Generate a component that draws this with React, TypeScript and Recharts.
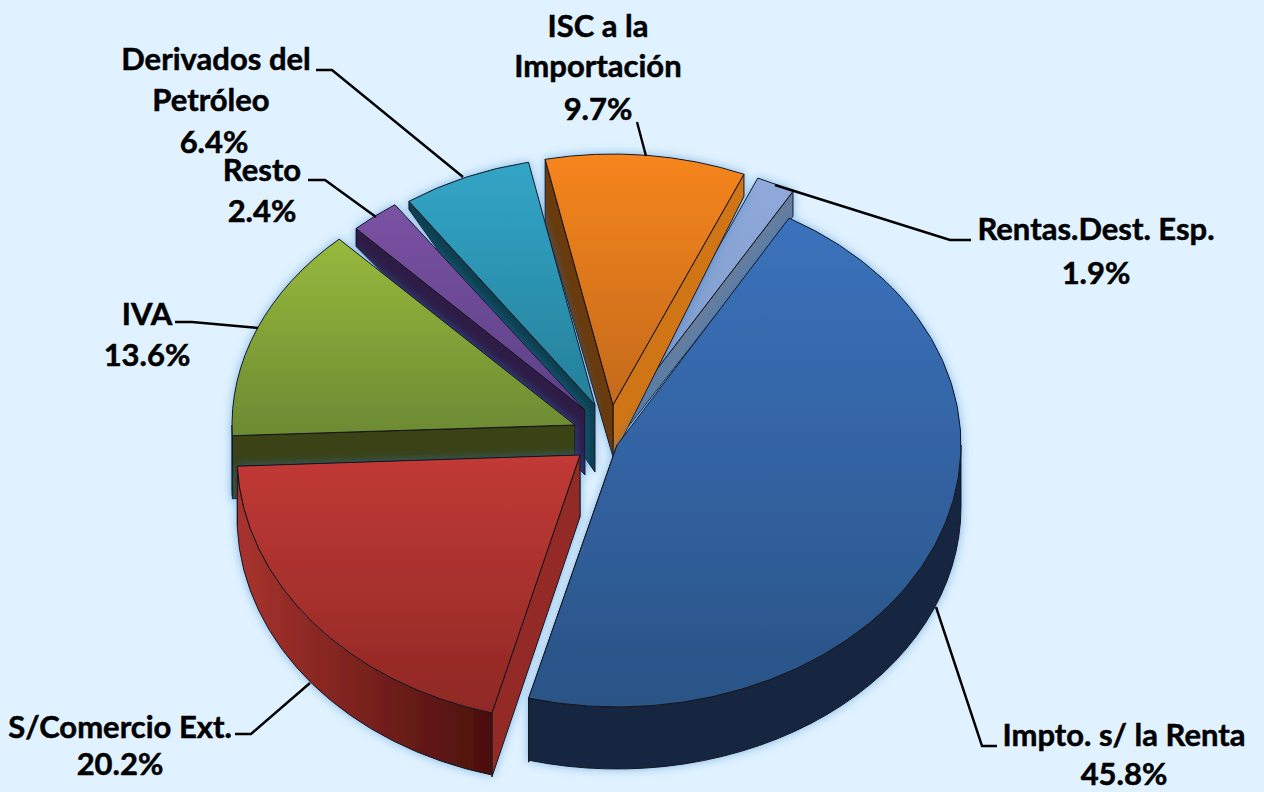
import { PieChart, Pie } from 'recharts';

// listed counter-clockwise from the top right, so the front slices paint last
const categories = ['Rentas.Dest. Esp.', 'ISC a la Importación', 'Derivados del Petróleo', 'Resto', 'IVA', 'S/Comercio Ext.', 'Impto. s/ la Renta'];
const shares = [1.9, 9.7, 6.4, 2.4, 13.6, 20.2, 45.8];
const shareLabels = ['1.9%', '9.7%', '6.4%', '2.4%', '13.6%', '20.2%', '45.8%'];

const data = categories.map((name, i) => ({ name, value: shares[i] }));

const CX = 600;
const CY = 430;
const RADIUS = 340;

// explode offset from the pie centre and radii of each slice
const apexes = [[628, 407], [613, 405], [595, 405], [585, 410], [575, 425], [580, 455], [617, 445]];
const radii = [[330, 249], [333, 251], [326, 248], [333, 250], [343, 256], [343, 267], [344, 262]];
// wall heights: at the apex, start edge, end edge, rim
const depths = [
  [20, 25, 0, 0],
  [52, 22, 64, 0],
  [67, 0, 8, 0],
  [65, 0, 18, 0],
  [60, 0, 63, 60],
  [62, 60, 64, 62],
  [62, 64, 0, 62],
];

const topColors = [['#8EA9DA', '#7F9CCB'], ['#F6851F', '#C46A1D'], ['#32A5C7', '#26809A'], ['#7A52A3', '#5D4088'], ['#97B93C', '#6C8A33'], ['#C23A35', '#8F2825'], ['#3B72BD', '#2A5386']];
// end edge, start edge
const edgeColors = [['#7089B0', '#657E9F'], ['#6B3A08', '#CF7418'], ['#10414F', '#10414F'], ['#2E1D46', '#2E1D46'], ['#3A4217', '#3A4217'], ['#942C28', '#000'], ['#12263F', '#12263F']];
const rimColors = [['#7089B0', '#7089B0'], ['#000', '#000'], ['#000', '#000'], ['#000', '#000'], ['#3A4217', '#3A4217'], ['#A8332E', '#4A0F0D'], ['#12263F', '#12263F']];

// label text lines: [text, centre x, baseline y]
const labelLines: [string, number, number][][] = [
  [['Rentas.Dest. Esp.', 1096, 240], [shareLabels[0], 1096, 284]],
  [['ISC a la', 598, 37], ['Importación', 598, 77], [shareLabels[1], 598, 120]],
  [['Derivados del', 216, 70], ['Petróleo', 211, 111], [shareLabels[2], 214, 153]],
  [['Resto', 262, 181], [shareLabels[3], 262, 222]],
  [['IVA', 147, 325], [shareLabels[4], 147, 366]],
  [['S/Comercio Ext.', 120, 738], [shareLabels[5], 120, 775]],
  [['Impto. s/ la Renta', 1124, 746], [shareLabels[6], 1124, 785]],
];
const leaders = [
  '971,240 950,240 775,185',
  '637,122 646,156',
  '316,70 332,70 463,177',
  '308,180 325,180 376,217',
  '175,322 192,322 258,328',
  '235,734 251,734 310,683',
  '997,746 982,746 936,607',
];

function Slice(props: any) {
  const { cx, cy, outerRadius, startAngle, endAngle, index } = props;
  const [ax, ay] = [cx + apexes[index][0] - CX, cy + apexes[index][1] - CY];
  const rx = (radii[index][0] / RADIUS) * outerRadius;
  const ry = (radii[index][1] / RADIUS) * outerRadius;
  const [dApex, dStart, dEnd, dRim] = depths[index];
  const pt = (deg: number, drop = 0) => {
    const a = (deg * Math.PI) / 180;
    return `${ax + rx * Math.cos(a)},${ay - ry * Math.sin(a) + drop}`;
  };
  const large = endAngle - startAngle > 180 ? 1 : 0;
  const wall = (deg: number, d: number) => `M${ax},${ay} L${pt(deg)} L${pt(deg, d)} L${ax},${ay + dApex} Z`;
  // only the part of the rim that faces the viewer gets a wall
  const lo = Math.max(startAngle, 180);
  const hi = Math.min(endAngle, 360);
  const line = { stroke: '#14141a', strokeWidth: 1, strokeLinejoin: 'round' as const };
  return (
    <g filter="url(#glow)">
      <defs>
        <filter id="glow" x="-15%" y="-15%" width="130%" height="130%">
          <feDropShadow dx="0" dy="0" stdDeviation="5" floodColor="#2a78c8" floodOpacity="0.5" />
        </filter>
        <linearGradient id={`top${index}`} x1="0" y1="0" x2="0" y2="1">
          <stop offset="0" stopColor={topColors[index][0]} />
          <stop offset="1" stopColor={topColors[index][1]} />
        </linearGradient>
        <linearGradient id={`rim${index}`} x1="0" y1="0" x2="1" y2="0">
          <stop offset="0" stopColor={rimColors[index][0]} />
          <stop offset="1" stopColor={rimColors[index][1]} />
        </linearGradient>
      </defs>
      {dStart > 0 && <path d={wall(startAngle, dStart)} fill={edgeColors[index][1]} {...line} />}
      {dEnd > 0 && <path d={wall(endAngle, dEnd)} fill={edgeColors[index][0]} {...line} />}
      {hi > lo && dRim > 0 && (
        <path
          d={`M${pt(lo)} A${rx} ${ry} 0 0 0 ${pt(hi)} L${pt(hi, dRim)} A${rx} ${ry} 0 0 1 ${pt(lo, dRim)} Z`}
          fill={`url(#rim${index})`}
          {...line}
        />
      )}
      <path d={`M${ax},${ay} L${pt(startAngle)} A${rx} ${ry} 0 ${large} 0 ${pt(endAngle)} Z`} fill={`url(#top${index})`} {...line} />
    </g>
  );
}

function SliceLabel(props: any) {
  const { index } = props;
  return (
    <g>
      <polyline points={leaders[index]} fill="none" stroke="#000" strokeWidth={2.4} />
      {labelLines[index].map(([text, x, y]) => (
        <text key={text} x={x} y={y} textAnchor="middle" fontFamily="Lato" fontWeight={700} fontSize={31} stroke="#000" strokeWidth={0.5} fill="#000">
          {text}
        </text>
      ))}
    </g>
  );
}

export default function App() {
  return (
    <div style={{ position: 'absolute', left: 0, top: 0, width: 1264, height: 792, background: '#E0F2FF', overflow: 'hidden' }}>
      <PieChart width={1264} height={792} margin={{ top: 0, right: 0, bottom: 0, left: 0 }}>
        <Pie
          data={data}
          dataKey="value"
          nameKey="name"
          cx={CX}
          cy={CY}
          outerRadius={RADIUS}
          startAngle={60}
          endAngle={420}
          stroke="none"
          shape={Slice}
          label={SliceLabel}
          labelLine={false}
          isAnimationActive={false}
        />
      </PieChart>
    </div>
  );
}
